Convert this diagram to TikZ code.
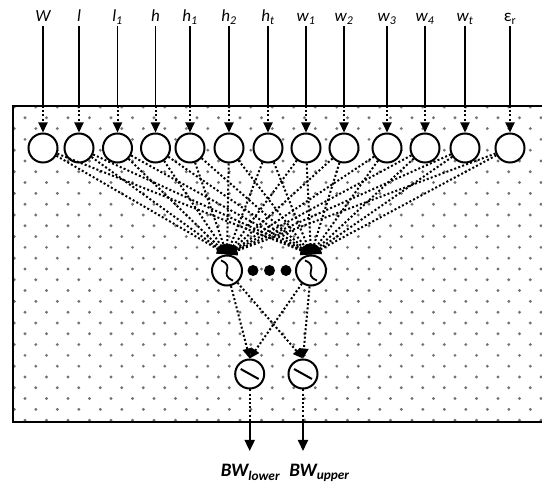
\documentclass[tikz,border=0pt]{standalone}
\usepackage{fontspec}
\setmainfont{Carlito}
\usetikzlibrary{arrows.meta}
\begin{document}
\begin{tikzpicture}[x=1pt,y=-1pt,
  neuron/.style={circle,draw,fill=white,line width=2pt,minimum size=29pt,inner sep=0pt},
  dotline/.style={line width=2pt,dash pattern=on 2pt off 2.2pt},
  solidline/.style={line width=1.8pt},
  tipin/.style={-{Triangle[width=9pt,length=10pt]}},
  tipout/.style={-{Triangle[width=10pt,length=11pt]}},
  toplabel/.style={anchor=base,inner sep=1pt,text depth=3pt,font=\fontsize{17}{20}\selectfont\itshape},
  botlabel/.style={anchor=base,inner sep=1pt,font=\fontsize{19}{22}\selectfont\bfseries\itshape},
  bigdot/.style={circle,fill=black,inner sep=0pt,minimum size=11pt},
  bgdot/.style={fill=black!55}
]
\useasboundingbox (0,0) rectangle (542,486);
% background dot grid
\foreach \j in {0,...,29} {
  \pgfmathsetmacro\yy{107+10.8*\j}
  \pgfmathsetmacro\xo{ifthenelse(mod(\j,2)==0,14.3,25)}
  \foreach \k in {0,...,25} {
    \fill[bgdot] (\xo+21.5*\k,\yy) circle (1.6pt);
  }
}
% box
\draw[line width=2pt] (560,106) -- (13,106) -- (13,422) -- (560,422);
% inputs
\foreach \x/\lab [count=\i] in {43/W,79/l,117.5/l\textsubscript{1},155.5/h,190/h\textsubscript{1},229/h\textsubscript{2},268/h\textsubscript{t},306/w\textsubscript{1},344/w\textsubscript{2},387/w\textsubscript{3},425/w\textsubscript{4},465/w\textsubscript{t},510/{\upshape ε\textsubscript{r}}} {
  \node[toplabel] (t\i) at (\x,21.5) {\lab};
  \coordinate (b\i) at (\x,106);
  \node[neuron] (i\i) at (\x,148) {};
  \draw[solidline] (t\i.south) -- (b\i);
  \draw[dotline,tipin] (b\i) -- (i\i);
}
% hidden
\node[neuron,minimum size=30pt] (h1) at (227,270.5) {};
\node[neuron,minimum size=30pt] (h2) at (311,270.5) {};
\node[bigdot] (d1) at (253,270.5) {};
\node[bigdot] (d2) at (269.5,270.5) {};
\node[bigdot] (d3) at (286,270.5) {};
\foreach \h in {h1,h2} {
  \begin{scope}[shift={(\h)}]
    \draw[line width=1.8pt] (-6,-10) .. controls (9,-4) and (-9,4) .. (6,10);
  \end{scope}
}
\foreach \i in {1,...,13} {
  \foreach \h in {h1,h2} {
    \draw[dotline,tipin] (i\i) -- (\h.north);
  }
}
% outputs
\node[neuron] (o1) at (249.7,374) {};
\node[neuron] (o2) at (303,374) {};
\foreach \o in {o1,o2} {
  \begin{scope}[shift={(\o)}]
    \draw[line width=2pt] (-9,-5) -- (9,5);
  \end{scope}
}
\foreach \h in {h1,h2} {
  \foreach \o in {o1,o2} {
    \draw[dotline,tipin] (\h) -- (\o.north);
  }
}
\coordinate (c1) at (249.7,422);
\coordinate (c2) at (303,422);
\coordinate (e1) at (249.7,451);
\coordinate (e2) at (303,451);
\draw[dotline] (o1) -- (c1);
\draw[dotline] (o2) -- (c2);
\draw[solidline,tipout] (c1) -- (e1);
\draw[solidline,tipout] (c2) -- (e2);
\node[botlabel] (l1) at (250.5,477) {BW\textsubscript{lower}};
\node[botlabel] (l2) at (319.5,477) {BW\textsubscript{upper}};
\end{tikzpicture}
\end{document}
